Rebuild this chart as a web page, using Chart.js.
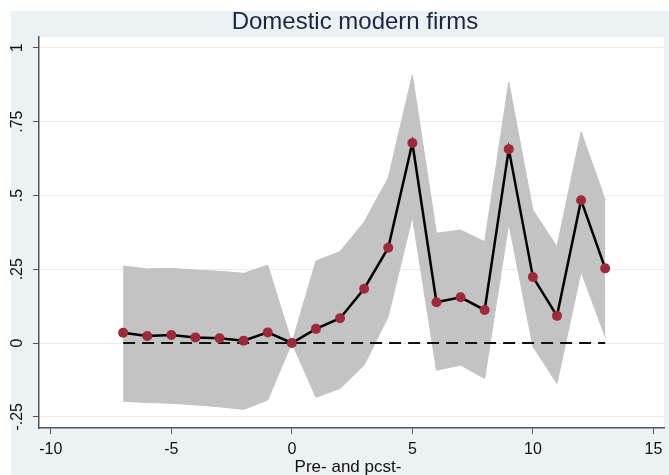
<!DOCTYPE html>
<html>
<head>
<meta charset="utf-8">
<title>Domestic modern firms</title>
<script src="https://cdn.jsdelivr.net/npm/chart.js@4.4.1/dist/chart.umd.min.js"></script>
<style>
  html, body { margin: 0; padding: 0; background: #fff; }
  #wrap { width: 669px; height: 475px; }
</style>
</head>
<body>
<div id="wrap"><canvas id="eventChart" width="669" height="475"></canvas></div>
<script>
// Event-study estimates
var periods = [-7, -6, -5, -4, -3, -2, -1, 0, 1, 2, 3, 4, 5, 6, 7, 8, 9, 10, 11, 12, 13];
var coef    = [0.035, 0.024, 0.027, 0.019, 0.016, 0.008, 0.036, 0, 0.048, 0.084, 0.184, 0.323,
               0.678, 0.138, 0.155, 0.112, 0.657, 0.224, 0.092, 0.484, 0.253];
var ciUpper = [0.261, 0.251, 0.253, 0.247, 0.243, 0.236, 0.264, 0, 0.278, 0.31, 0.41, 0.56,
               0.908, 0.372, 0.383, 0.343, 0.884, 0.451, 0.326, 0.716, 0.485];
var ciLower = [-0.197, -0.202, -0.204, -0.21, -0.216, -0.225, -0.193, 0, -0.184, -0.154, -0.075, 0.09,
               0.428, -0.092, -0.075, -0.12, 0.406, -0.012, -0.137, 0.242, 0.021];

var xTicks = [-10, -5, 0, 5, 10, 15];
var yTicks = [-0.25, 0, 0.25, 0.5, 0.75, 1];
var yTickLabels = ['-.25', '0', '.25', '.5', '.75', '1'];

var titleText = 'Domestic modern firms';
var xTitleText = 'Pre- and pcst-';

function toPoints(vals) {
  return periods.map(function (p, i) { return { x: p, y: vals[i] }; });
}

var FONT = '"Liberation Sans", Arial, sans-serif';
var BG = '#eaf2f3';

// background panels + the text around the plot
var chrome = {
  id: 'chrome',
  beforeDraw: function (chart) {
    var ctx = chart.ctx, a = chart.chartArea;
    ctx.save();
    ctx.fillStyle = '#fff';
    ctx.fillRect(0, 0, chart.width, chart.height);
    ctx.fillStyle = BG;
    ctx.fillRect(11, 11, chart.width - 11, chart.height - 11);
    ctx.fillStyle = '#fff';
    ctx.fillRect(a.left, a.top, a.right - a.left, a.bottom - a.top);
    ctx.restore();
  },
  afterDraw: function (chart) {
    var ctx = chart.ctx, ys = chart.scales.y;
    ctx.save();
    // title
    ctx.fillStyle = '#1c2541';
    ctx.font = '24px ' + FONT;
    ctx.textAlign = 'center';
    ctx.textBaseline = 'alphabetic';
    ctx.fillText(titleText, 355, 29);

    // rotated y tick labels
    ctx.fillStyle = '#111';
    ctx.font = '16px ' + FONT;
    ctx.textBaseline = 'middle';
    yTicks.forEach(function (v, i) {
      var py = ys.getPixelForValue(v);
      ctx.save();
      ctx.translate(18, py);
      ctx.rotate(-Math.PI / 2);
      ctx.fillText(yTickLabels[i], 0, 0);
      ctx.restore();
    });

    // x axis title
    ctx.font = '17px ' + FONT;
    ctx.textBaseline = 'alphabetic';
    ctx.fillText(xTitleText, 348, 472);
    ctx.restore();
  }
};

var ctx = document.getElementById('eventChart').getContext('2d');

var chartData = {
  datasets: [
    {
      label: 'Estimate',
      data: toPoints(coef),
      borderColor: '#000',
      borderWidth: 2.5,
      pointRadius: 5,
      pointBackgroundColor: '#9b2a3a',
      pointBorderColor: '#9b2a3a',
      pointBorderWidth: 0,
      fill: false,
      order: 0
    },
    {
      label: 'Zero',
      data: periods.map(function (p) { return { x: p, y: 0 }; }),
      borderColor: '#111',
      borderWidth: 2,
      borderDash: [12, 7],
      pointRadius: 0,
      fill: false,
      order: 1
    },
    {
      label: 'Upper CI',
      data: toPoints(ciUpper),
      borderColor: '#c3c3c3',
      borderWidth: 1,
      pointRadius: 0,
      backgroundColor: '#c3c3c3',
      fill: '+1',
      order: 2
    },
    {
      label: 'Lower CI',
      data: toPoints(ciLower),
      borderColor: '#c3c3c3',
      borderWidth: 1,
      pointRadius: 0,
      fill: false,
      order: 3
    }
  ]
};

var chartOptions = {
  responsive: false,
  devicePixelRatio: 1,
  animation: false,
  layout: { padding: { top: 37, left: 0, right: 0, bottom: 0 } },
  plugins: {
    legend: { display: false },
    tooltip: { enabled: false }
  },
  scales: {
    x: {
      type: 'linear',
      min: -10.49,
      max: 15.44,
      afterBuildTicks: function (s) { s.ticks = xTicks.map(function (v) { return { value: v }; }); },
      afterFit: function (s) { s.height = 47; },
      grid: { drawOnChartArea: false, drawTicks: true, tickLength: 6, tickColor: '#555' },
      border: { color: '#555', width: 1.5 },
      ticks: {
        autoSkip: false,
        maxRotation: 0,
        padding: 6,
        color: '#111',
        font: { family: FONT, size: 16 },
        callback: function (v) { return String(v); }
      }
    },
    y: {
      type: 'linear',
      min: -0.288,
      max: 1.037,
      afterBuildTicks: function (s) { s.ticks = yTicks.map(function (v) { return { value: v }; }); },
      afterFit: function (s) { s.width = 39; },
      grid: { color: '#ebebeb', lineWidth: 1, drawTicks: true, tickLength: 6, tickColor: '#555' },
      border: { color: '#555', width: 1.5 },
      ticks: { display: false }
    }
  }
};

var eventChart = new Chart(ctx, {
  type: 'line',
  data: chartData,
  options: chartOptions,
  plugins: [chrome]
});
</script>
</body>
</html>
